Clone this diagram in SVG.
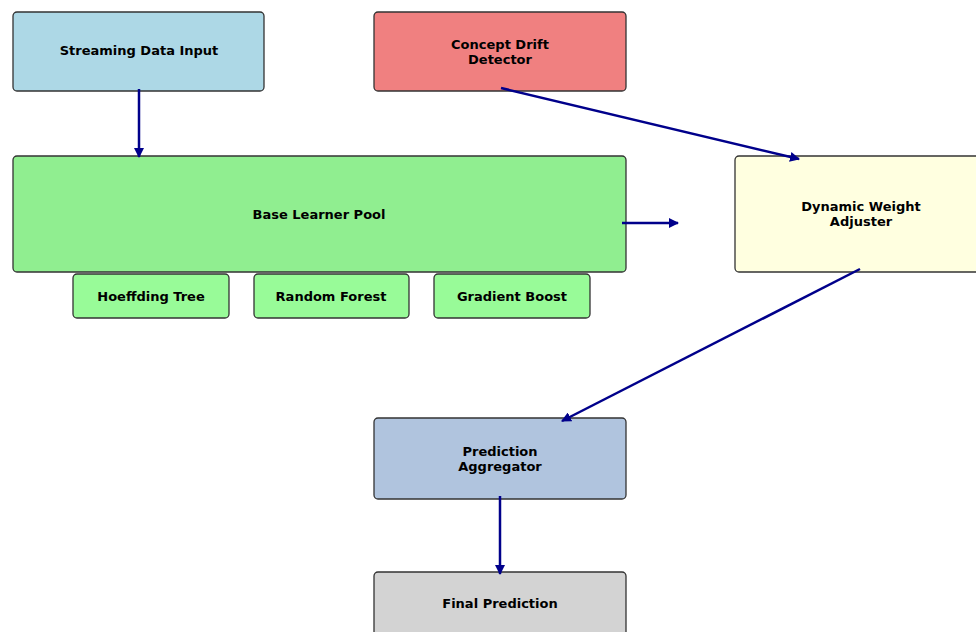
<svg xmlns="http://www.w3.org/2000/svg" width="976" height="632" viewBox="0 0 976 632">
<style>
.box{stroke:#333;stroke-width:1.3}
.t{font-family:"DejaVu Sans",sans-serif;font-weight:bold;font-size:13px;fill:#000;text-anchor:middle;dominant-baseline:central}
.c{stroke:#00008B;stroke-width:2.5;fill:none;marker-end:url(#ah)}
</style>
<defs>
<marker id="ah" viewBox="0 0 10 10" refX="9" refY="5" markerWidth="4" markerHeight="4" orient="auto" markerUnits="strokeWidth">
<path d="M0,0 L10,5 L0,10 z" fill="#00008B"/>
</marker>
</defs>
<rect width="976" height="632" fill="#fff"/>
<g id="streaming">
<rect class="box" x="13" y="12" width="251" height="79" rx="4" fill="#ADD8E6"/>
<text class="t" x="139" y="50">Streaming Data Input</text>
</g>
<g id="drift">
<rect class="box" x="374" y="12" width="252" height="79" rx="4" fill="#F08080"/>
<text class="t" x="500" y="44">Concept Drift</text>
<text class="t" x="500" y="59">Detector</text>
</g>
<g id="pool">
<rect class="box" x="13" y="156" width="613" height="116" rx="4" fill="#90EE90"/>
<text class="t" x="319" y="214">Base Learner Pool</text>
</g>
<g id="hoeffding">
<rect class="box" x="73" y="274" width="156" height="44" rx="4" fill="#98FB98"/>
<text class="t" x="151" y="296">Hoeffding Tree</text>
</g>
<g id="rf">
<rect class="box" x="254" y="274" width="155" height="44" rx="4" fill="#98FB98"/>
<text class="t" x="331" y="296">Random Forest</text>
</g>
<g id="gb">
<rect class="box" x="434" y="274" width="156" height="44" rx="4" fill="#98FB98"/>
<text class="t" x="512" y="296">Gradient Boost</text>
</g>
<g id="weight">
<rect class="box" x="735" y="156" width="250" height="116" rx="4" fill="#FFFFE0"/>
<text class="t" x="861" y="206">Dynamic Weight</text>
<text class="t" x="861" y="221">Adjuster</text>
</g>
<g id="aggregator">
<rect class="box" x="374" y="418" width="252" height="81" rx="4" fill="#B0C4DE"/>
<text class="t" x="500" y="451">Prediction</text>
<text class="t" x="500" y="466">Aggregator</text>
</g>
<g id="final">
<rect class="box" x="374" y="572" width="252" height="70" rx="4" fill="#D3D3D3"/>
<text class="t" x="500" y="603">Final Prediction</text>
</g>
<g id="connectors">
<line class="c" x1="139" y1="89" x2="139" y2="157"/>
<line class="c" x1="501" y1="88" x2="799" y2="159"/>
<line class="c" x1="622" y1="223" x2="678" y2="223"/>
<line class="c" x1="860" y1="269" x2="562" y2="421"/>
<line class="c" x1="500" y1="496" x2="500" y2="574"/>
</g>
</svg>
